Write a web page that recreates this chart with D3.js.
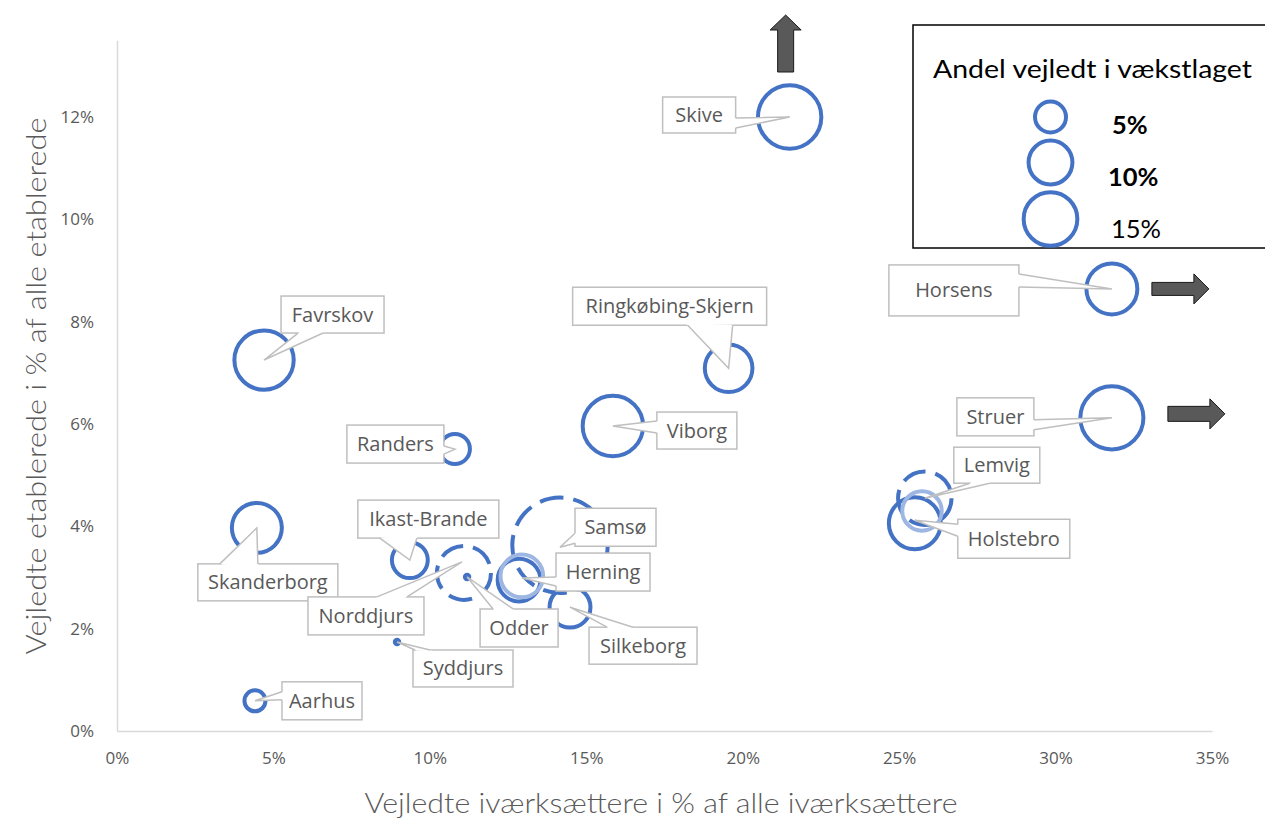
<!DOCTYPE html>
<html>
<head>
<meta charset="utf-8">
<script src="https://cdn.jsdelivr.net/npm/d3@7"></script>
<style>
  html, body { margin: 0; padding: 0; background: #fff; }
  svg { display: block; }
</style>
</head>
<body>
<svg id="chart" width="1265" height="819"></svg>
<script>
// ---------------- DATA ----------------
// Solid (dark blue) bubbles: x = vejledte iværksættere %, y = vejledte etablerede %, size = andel vejledt i vækstlaget %
const solidNames = ["Skive","Horsens","Struer","Favrskov","Randers","Ringkøbing-Skjern","Viborg",
                    "Skanderborg","Aarhus","Ikast-Brande","Odder","Syddjurs","Herning","Silkeborg","Holstebro"];
const solidX    = [21.5, 31.8, 31.8, 4.7, 10.8, 19.55, 15.85, 4.47, 4.41, 9.36, 11.19, 8.95, 12.85, 14.48, 25.5];
const solidY    = [12.0, 8.64, 6.12, 7.25, 5.51, 7.09, 5.96, 3.97, 0.59, 3.34, 3.01, 1.74, 2.95, 2.42, 4.06];
const solidSize = [20.9, 13.5, 20.7, 18.3, 4.7, 11.8, 19.0, 13.0, 2.3, 6.7, 0.1, 0.1, 9.5, 8.7, 14.0];

// Dashed bubbles
const dashedNames = ["Samsø","Norddjurs","Lemvig"];
const dashedX     = [14.16, 11.09, 25.82];
const dashedY     = [3.63, 3.09, 4.55];
const dashedSize  = [47.4, 15.2, 14.9];

// Light blue bubbles (unlabelled)
const lightNames = ["Herning","Lemvig"];
const lightX     = [12.94, 25.73];
const lightY     = [3.03, 4.30];
const lightSize  = [9.5, 8.1];

// Axis ticks
const xTicks = [0, 5, 10, 15, 20, 25, 30, 35];
const yTicks = [0, 2, 4, 6, 8, 10, 12];

// Legend
const legendTitle = "Andel vejledt i vækstlaget";
const legendSizes = [5, 10, 15];

// Off-scale markers
const offScale = [ {name:"Skive", dir:"up"}, {name:"Horsens", dir:"right"}, {name:"Struer", dir:"right"} ];

// ---------------- LAYOUT (pixel offsets relative to the bubble) ----------------
const calloutLayout = {
  "Skive":            {box:[-127,-20,73,36],  base:[[-54,1],[-54,11]]},
  "Horsens":          {box:[-223,-24,130,51], base:[[-93,-15],[-93,-2]]},
  "Struer":           {box:[-155,-20,77,38],  base:[[-78,2],[-78,12]]},
  "Favrskov":         {box:[17,-64,103,37],   base:[[34,-27],[59,-27]]},
  "Randers":          {box:[-108,-24,97,38],  base:[[-11,-3],[-11,5]]},
  "Ringkøbing-Skjern":{box:[-156,-81,194,38], base:[[-41,-43],[4,-43]]},
  "Viborg":           {box:[44,-14,80,37],    base:[[44,-5],[44,7]]},
  "Skanderborg":      {box:[-59,36,140,37],   base:[[-37,36],[1,36]]},
  "Aarhus":           {box:[27,-19,80,38],    base:[[27,-9],[27,-1]]},
  "Ikast-Brande":     {box:[-52,-60,141,38],  base:[[-30,-22],[7,-22]]},
  "Norddjurs":        {box:[-156,24,116,38],  base:[[-87,24],[-57,24]], tip:[-2,-11]},
  "Odder":            {box:[13,32,78,38],     base:[[26,32],[46,32]]},
  "Syddjurs":         {box:[16,8,100,37],     base:[[18,8],[33,8]]},
  "Samsø":            {box:[15,-37,81,38],    base:[[15,-12],[15,-2]], tip:[0,2]},
  "Herning":          {box:[37,-27,94,38],    base:[[37,-3],[37,6]], tip:[3,-2]},
  "Silkeborg":        {box:[19,20,108,37],    base:[[37,20],[63,20]]},
  "Lemvig":           {box:[29,-51,86,36],    base:[[45,-15],[65,-15]]},
  "Holstebro":        {box:[43,-4,112,39],    base:[[43,1],[43,13]], tip:[0,-3]}
};
const calloutOrder = ["Skive","Horsens","Struer","Favrskov","Randers","Ringkøbing-Skjern","Viborg",
  "Aarhus","Ikast-Brande","Skanderborg","Norddjurs","Syddjurs","Silkeborg","Odder","Samsø","Herning","Holstebro","Lemvig"];

const BLUE = "#4472C4", LIGHT = "#9DB6E2", GREY_TXT = "#595959", BORDER = "#BFBFBF";

// ---------------- SCALES ----------------
const svg = d3.select("#chart");
const x = d3.scaleLinear().domain([0, 35]).range([117, 1212]);
const y = d3.scaleLinear().domain([0, 13.5]).range([731, 40.25]);
const r = d3.scaleSqrt().domain([0, 5]).range([0, 15.5]);

// ---------------- AXES ----------------
const xAxis = svg.append("g").attr("transform", "translate(0,731)")
  .call(d3.axisBottom(x).tickValues(xTicks).tickSize(0).tickPadding(21).tickFormat(d => d + "%"));
const yAxis = svg.append("g").attr("transform", "translate(117,0)")
  .call(d3.axisLeft(y).tickValues(yTicks).tickSize(0).tickPadding(23).tickFormat(d => d + "%"));
[xAxis, yAxis].forEach(a => {
  a.select(".domain").attr("stroke", "#D9D9D9").attr("stroke-width", 1.5);
  a.selectAll("text").attr("fill", GREY_TXT).attr("font-family", "'Open Sans', sans-serif").attr("font-size", 17);
});

svg.append("text")
  .attr("x", 661).attr("y", 813).attr("text-anchor", "middle")
  .attr("font-family", "Lato, sans-serif").attr("font-weight", 300).attr("font-size", 28)
  .attr("textLength", 593).attr("lengthAdjust", "spacingAndGlyphs")
  .attr("fill", GREY_TXT).text("Vejledte iværksættere i % af alle iværksættere");
svg.append("text")
  .attr("transform", "translate(46,386) rotate(-90)").attr("text-anchor", "middle")
  .attr("font-family", "Lato, sans-serif").attr("font-weight", 300).attr("font-size", 28)
  .attr("textLength", 537).attr("lengthAdjust", "spacingAndGlyphs")
  .attr("fill", GREY_TXT).text("Vejledte etablerede i % af alle etablerede");

// ---------------- BUBBLES ----------------
const toPts = (names, xs, ys, ss) => names.map((n, i) => ({name: n, x: xs[i], y: ys[i], s: ss[i]}));
const solid = toPts(solidNames, solidX, solidY, solidSize);
const dashed = toPts(dashedNames, dashedX, dashedY, dashedSize);
const light = toPts(lightNames, lightX, lightY, lightSize);

const gB = svg.append("g");
gB.selectAll("circle.solid").data(solid).join("circle").attr("class", "solid")
  .attr("cx", d => x(d.x)).attr("cy", d => y(d.y)).attr("r", d => Math.max(r(d.s), 2.2))
  .attr("fill", d => r(d.s) < 4 ? BLUE : "none").attr("stroke", BLUE).attr("stroke-width", 4);
gB.selectAll("circle.dashed").data(dashed).join("circle").attr("class", "dashed")
  .attr("cx", d => x(d.x)).attr("cy", d => y(d.y)).attr("r", d => r(d.s))
  .attr("fill", "none").attr("stroke", BLUE).attr("stroke-width", 4).attr("stroke-dasharray", "24,10");
gB.selectAll("circle.light").data(light).join("circle").attr("class", "light")
  .attr("cx", d => x(d.x)).attr("cy", d => y(d.y)).attr("r", d => r(d.s))
  .attr("fill", "none").attr("stroke", LIGHT).attr("stroke-width", 4);

// ---------------- CALLOUTS ----------------
const allPts = {};
[...solid, ...dashed].forEach(d => { allPts[d.name] = d; });
const gC = svg.append("g");
calloutOrder.forEach(name => {
  const d = allPts[name], L = calloutLayout[name];
  const px = x(d.x), py = y(d.y);
  const [bx, by, bw, bh] = L.box;
  const t = L.tip || [0, 0];
  const tip = [px + t[0], py + t[1]];
  const b1 = [px + L.base[0][0], py + L.base[0][1]];
  const b2 = [px + L.base[1][0], py + L.base[1][1]];
  const cx = px + bx + bw / 2, cy = py + by + bh / 2;
  const inward = p => { const dx = cx - p[0], dy = cy - p[1]; const len = Math.hypot(dx, dy) || 1; return [p[0] + dx / len * 2.5, p[1] + dy / len * 2.5]; };
  const g = gC.append("g");
  g.append("rect").attr("x", px + bx).attr("y", py + by).attr("width", bw).attr("height", bh)
    .attr("fill", "#fff").attr("stroke", BORDER).attr("stroke-width", 1.5);
  g.append("path").attr("d", d3.line()([inward(b1), b1, tip, b2, inward(b2)]) + "Z")
    .attr("fill", "#fff").attr("stroke", "none");
  g.append("path").attr("d", d3.line()([b1, tip, b2]))
    .attr("fill", "none").attr("stroke", BORDER).attr("stroke-width", 1.5).attr("stroke-linejoin", "miter");
  g.append("text").attr("x", cx).attr("y", cy).attr("dy", "0.35em").attr("text-anchor", "middle")
    .attr("font-family", "'Open Sans', sans-serif").attr("font-size", 20).attr("fill", GREY_TXT).text(name);
});

// ---------------- OFF-SCALE ARROWS ----------------
const arrowLayout = {
  up:    {tip:-102, headBase:-87, end:-45, headHalf:15.5, shaftHalf:8, offset:-4},
  right: {"Horsens": {start:40, headBase:82, tip:97, headHalf:15, shaftHalf:6.5, offset:0},
          "Struer":  {start:56, headBase:98, tip:113, headHalf:15, shaftHalf:7.5, offset:-4}}
};
offScale.forEach(o => {
  const d = allPts[o.name];
  const px = x(d.x), py = y(d.y);
  let pts;
  if (o.dir === "up") {
    const A = arrowLayout.up, cx = px + A.offset;
    pts = [[cx, py + A.tip], [cx + A.headHalf, py + A.headBase], [cx + A.shaftHalf, py + A.headBase],
           [cx + A.shaftHalf, py + A.end], [cx - A.shaftHalf, py + A.end], [cx - A.shaftHalf, py + A.headBase],
           [cx - A.headHalf, py + A.headBase]];
  } else {
    const A = arrowLayout.right[o.name], cy = py + A.offset;
    pts = [[px + A.tip, cy], [px + A.headBase, cy - A.headHalf], [px + A.headBase, cy - A.shaftHalf],
           [px + A.start, cy - A.shaftHalf], [px + A.start, cy + A.shaftHalf], [px + A.headBase, cy + A.shaftHalf],
           [px + A.headBase, cy + A.headHalf]];
  }
  svg.append("path").attr("d", d3.line()(pts) + "Z")
    .attr("fill", "#595959").attr("stroke", "#1a1a1a").attr("stroke-width", 1);
});

// ---------------- LEGEND ----------------
const gL = svg.append("g");
gL.append("rect").attr("x", 913).attr("y", 25).attr("width", 360).attr("height", 223)
  .attr("fill", "#fff").attr("stroke", "#000").attr("stroke-width", 1.5);
gL.append("text").attr("x", 933).attr("y", 78).attr("font-family", "Lato, sans-serif")
  .attr("font-size", 25.5).attr("textLength", 319).attr("lengthAdjust", "spacingAndGlyphs")
  .attr("fill", "#000").text(legendTitle);
const legCY = [117, 162.5, 219];
const legTX = [1112, 1108, 1111];
const legTY = [134, 186, 238];
const legBold = [true, true, false];
legendSizes.forEach((s, i) => {
  gL.append("circle").attr("cx", 1050.5).attr("cy", legCY[i]).attr("r", r(s))
    .attr("fill", "none").attr("stroke", BLUE).attr("stroke-width", 4);
  gL.append("text").attr("x", legTX[i]).attr("y", legTY[i]).attr("font-family", "Lato, sans-serif")
    .attr("font-size", 25.5).attr("font-weight", legBold[i] ? 700 : 400).attr("fill", "#000").text(s + "%");
});
</script>
</body>
</html>
